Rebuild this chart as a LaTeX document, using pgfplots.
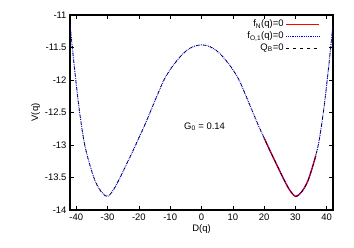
\documentclass[border=0pt]{standalone}
\usepackage{pgfplots}
\pgfplotsset{compat=1.18}
\usepackage{fontspec}
\setmainfont{Liberation Sans}
\pgfplotstableread{
D V
-42 -11.15
-40.5 -11.85
-39 -12.47
-37.5 -12.95
-36 -13.25
-34 -13.55
-32 -13.72
-30 -13.79
-28 -13.68
-26 -13.50
-24 -13.30
-22 -13.10
-20 -12.89
-18 -12.68
-16 -12.45
-14 -12.22
-12 -12.00
-10 -11.84
-8 -11.71
-6 -11.60
-4 -11.52
-2 -11.475
0 -11.46
2 -11.475
4 -11.52
6 -11.60
8 -11.71
10 -11.84
12 -12.00
14 -12.22
16 -12.45
18 -12.68
20 -12.89
22 -13.10
24 -13.30
26 -13.50
28 -13.68
30 -13.79
32 -13.72
34 -13.55
36 -13.25
37.5 -12.95
39 -12.47
40.5 -11.85
42 -11.15
}\curve
\pgfplotstableread{
D V
20 -12.89
22 -13.10
24 -13.30
26 -13.50
28 -13.68
30 -13.79
32 -13.72
34 -13.55
36 -13.25
36.5 -13.16
}\redpart
\begin{document}
\begin{tikzpicture}
\begin{axis}[
  name=ax,
  scale only axis,
  width=263bp, height=195bp,
  xmin=-42, xmax=42, ymin=-14, ymax=-11,
  xtick={-40,-30,...,40},
  ytick={-14,-13.5,...,-11},
  tick align=inside,
  major tick length=4bp,
  axis line style={line width=1.2pt},
  every tick/.style={black, line width=0.6pt},
  /pgf/number format/assume math mode=true,
  /pgf/number format/fixed,
  tick label style={font=\fontsize{9.5}{11}\selectfont},
  label style={font=\fontsize{9.5}{11}\selectfont},
  xlabel={D(q)},
  ylabel={V(q)},
  xlabel style={yshift=2bp},
  ylabel style={yshift=-2bp},
  legend style={draw=none, fill=none, at={(0.955,0.99)}, anchor=north east,
    font=\fontsize{9.5}{10}\selectfont, row sep=-0.5bp, inner sep=1bp},
  legend cell align=right,
  legend plot pos=right,
  legend image code/.code={\draw[#1] (0bp,0bp) -- (33bp,0bp);},
]
\addplot[red, line width=1.4pt, smooth] table[x=D,y=V] {\redpart};
\addlegendentry{f\textsubscript{N}(q)=0}
\addplot[blue, line width=1.1pt, dash pattern=on 0.7pt off 1.1pt, smooth] table[x=D,y=V] {\curve};
\addlegendentry{f\textsubscript{O,1}(q)=0}
\addplot[black, line width=0.6pt, dash pattern=on 3bp off 4bp, smooth] table[x=D,y=V] {\curve};
\addlegendentry{Q\textsubscript{B}=0}
\node[font=\fontsize{9.5}{11}\selectfont] at (axis cs:1,-12.72) {G\textsubscript{0} = 0.14};
\end{axis}
\path (ax.south west) ++(-70bp,-38bp) rectangle ++(354bp,248bp);
\end{tikzpicture}
\end{document}
